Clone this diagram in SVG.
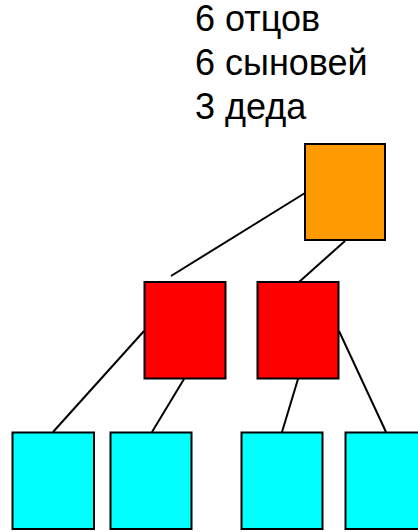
<svg xmlns="http://www.w3.org/2000/svg" width="418" height="532" viewBox="0 0 418 532">
<style>
.t{font-family:"Liberation Sans",Arial,sans-serif;font-size:36px;fill:#000}
.n{stroke:#000;stroke-width:2}
.c{stroke:#000;stroke-width:2;fill:none}
</style>
<rect width="418" height="532" fill="#fff"/>
<g id="label">
<text class="t" x="195" y="31">6 отцов</text>
<text class="t" x="195" y="75">6 сыновей</text>
<text class="t" x="195" y="119">3 деда</text>
</g>
<g id="connectors">
<line class="c" x1="305" y1="193" x2="171" y2="276"/>
<line class="c" x1="345" y1="241" x2="299" y2="282"/>
<line class="c" x1="144" y1="331" x2="53" y2="432"/>
<line class="c" x1="184" y1="379" x2="152" y2="432"/>
<line class="c" x1="298" y1="379" x2="282" y2="432"/>
<line class="c" x1="339" y1="331" x2="386" y2="432"/>
</g>
<g id="grandfather"><rect class="n" x="305" y="144" width="80" height="96" fill="#ff9900"/></g>
<g id="father1"><rect class="n" x="144.5" y="282" width="81" height="96.5" fill="#ff0000"/></g>
<g id="father2"><rect class="n" x="257.5" y="282" width="81" height="96.5" fill="#ff0000"/></g>
<g id="son1"><rect class="n" x="12.5" y="432.5" width="81.5" height="96.5" fill="#00ffff"/></g>
<g id="son2"><rect class="n" x="110.5" y="432.5" width="81" height="96.5" fill="#00ffff"/></g>
<g id="son3"><rect class="n" x="241.5" y="432.5" width="81" height="96.5" fill="#00ffff"/></g>
<g id="son4"><rect class="n" x="345.5" y="432.5" width="81" height="96.5" fill="#00ffff"/></g>
</svg>
